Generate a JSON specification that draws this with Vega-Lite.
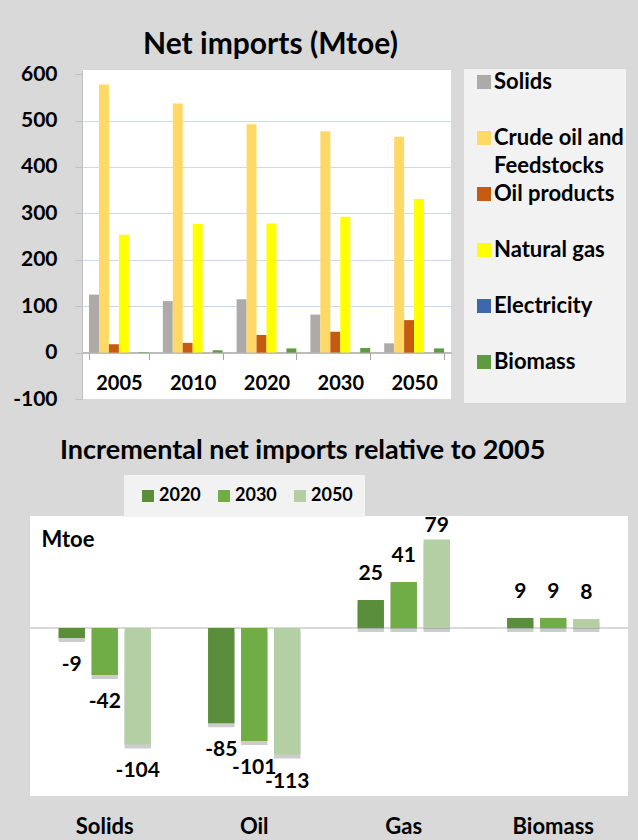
{
  "$schema": "https://vega.github.io/schema/vega-lite/v6.json",
  "background": "#d9d9d9",
  "padding": {"left": 12, "top": 30, "right": 12, "bottom": 10},
  "config": {
    "font": "Lato",
    "title": {"color": "black", "fontWeight": "bold"},
    "axis": {"labelColor": "black", "titleColor": "black", "labelFontWeight": "bold", "titleFontWeight": "bold"},
    "legend": {"labelColor": "black", "labelFontWeight": "bold"},
    "style": {"guide-label": {"lineHeight": 28}}
  },
  "spacing": 28,
  "resolve": {"scale": {"color": "independent", "xOffset": "independent", "x": "independent", "y": "independent"}, "legend": {"color": "independent"}},
  "vconcat": [
    {
      "spacing": 0,
      "bounds": "flush",
      "resolve": {"scale": {"color": "independent", "xOffset": "independent"}, "legend": {"color": "independent"}},
      "hconcat": [
        {
          "data": {"values": []},
          "mark": "point",
          "width": 52,
          "height": 1,
          "view": {"fill": null, "stroke": null}
        },
        {
          "width": 369,
          "height": 329,
          "view": {"fill": "white", "stroke": null},
          "title": {"text": "Net imports (Mtoe)", "fontSize": 30, "anchor": "middle", "frame": "group", "offset": 3, "dx": 4},
          "data": {"values": [
            {"year": "2005", "type": "Solids", "value": 125},
            {"year": "2005", "type": "Crude oil and Feedstocks", "value": 578},
            {"year": "2005", "type": "Oil products", "value": 18},
            {"year": "2005", "type": "Natural gas", "value": 254},
            {"year": "2005", "type": "Electricity", "value": 0},
            {"year": "2005", "type": "Biomass", "value": 1},
            {"year": "2010", "type": "Solids", "value": 111},
            {"year": "2010", "type": "Crude oil and Feedstocks", "value": 537},
            {"year": "2010", "type": "Oil products", "value": 21},
            {"year": "2010", "type": "Natural gas", "value": 277},
            {"year": "2010", "type": "Electricity", "value": 0},
            {"year": "2010", "type": "Biomass", "value": 5},
            {"year": "2020", "type": "Solids", "value": 115},
            {"year": "2020", "type": "Crude oil and Feedstocks", "value": 492},
            {"year": "2020", "type": "Oil products", "value": 38},
            {"year": "2020", "type": "Natural gas", "value": 278},
            {"year": "2020", "type": "Electricity", "value": 0},
            {"year": "2020", "type": "Biomass", "value": 9},
            {"year": "2030", "type": "Solids", "value": 82},
            {"year": "2030", "type": "Crude oil and Feedstocks", "value": 477},
            {"year": "2030", "type": "Oil products", "value": 45},
            {"year": "2030", "type": "Natural gas", "value": 293},
            {"year": "2030", "type": "Electricity", "value": 0},
            {"year": "2030", "type": "Biomass", "value": 10},
            {"year": "2050", "type": "Solids", "value": 20},
            {"year": "2050", "type": "Crude oil and Feedstocks", "value": 465},
            {"year": "2050", "type": "Oil products", "value": 70},
            {"year": "2050", "type": "Natural gas", "value": 331},
            {"year": "2050", "type": "Electricity", "value": 0},
            {"year": "2050", "type": "Biomass", "value": 9}
          ]},
          "encoding": {
            "x": {
              "field": "year", "type": "nominal",
              "scale": {"paddingInner": 0.19, "paddingOuter": 0.095},
              "axis": {"title": null, "orient": "bottom", "offset": -46.4, "domainColor": "#a6a6a6", "domainWidth": 1.5, "tickBand": "extent", "tickColor": "#a6a6a6", "tickSize": 7, "labelFontSize": 20, "labelPadding": 14, "labelAngle": 0}
            },
            "xOffset": {
              "field": "type", "type": "nominal",
              "sort": ["Solids", "Crude oil and Feedstocks", "Oil products", "Natural gas", "Electricity", "Biomass"],
              "scale": {"paddingInner": 0, "paddingOuter": 0}
            },
            "y": {
              "field": "value", "type": "quantitative",
              "scale": {"domain": [-100, 609], "nice": false, "zero": false},
              "axis": {
                "title": null,
                "values": [-100, 0, 100, 200, 300, 400, 500, 600],
                "labelExpr": "'' + datum.value",
                "labelFontSize": 21,
                "labelPadding": 18,
                "domainColor": "#bfbfbf",
                "tickColor": "#bfbfbf",
                "tickSize": 7,
                "gridColor": {"condition": {"test": "datum.value <= 0 || datum.value >= 600", "value": "transparent"}, "value": "#c9daf0"}
              }
            }
          },
          "layer": [
            {
              "mark": {"type": "bar"},
              "encoding": {
                "color": {
                  "field": "type", "type": "nominal",
                  "sort": ["Solids", "Crude oil and Feedstocks", "Oil products", "Natural gas", "Electricity", "Biomass"],
                  "scale": {
                    "domain": ["Solids", "Crude oil and Feedstocks", "Oil products", "Natural gas", "Electricity", "Biomass"],
                    "range": ["#aeaaaa", "#ffd966", "#c55a11", "#ffff00", "#3f67ae", "#5e9a3e"]
                  },
                  "legend": {
                    "orient": "none", "direction": "vertical", "legendX": 382, "legendY": -1,
                    "title": null,
                    "fillColor": "#f2f2f2", "padding": 2,
                    "symbolType": "square", "symbolSize": 196, "symbolOffset": 7, "symbolStrokeWidth": 0,
                    "labelFontSize": 22, "labelOffset": -1, "rowPadding": 6, "labelLimit": 300,
                    "labelExpr": "datum.label == 'Crude oil and Feedstocks' ? ['Crude oil and', 'Feedstocks'] : [datum.label, '']"
                  }
                }
              }
            }
          ]
        }
      ]
    },
    {
      "width": 598,
      "height": 280,
      "view": {"fill": "white", "stroke": null},
      "title": {"text": "Incremental net imports relative to 2005", "fontSize": 27, "anchor": "start", "frame": "group", "dx": 30, "offset": 10},
      "data": {"values": [
        {"fuel": "Solids", "year": "2020", "value": -9},
        {"fuel": "Solids", "year": "2030", "value": -42},
        {"fuel": "Solids", "year": "2050", "value": -104},
        {"fuel": "Oil", "year": "2020", "value": -85},
        {"fuel": "Oil", "year": "2030", "value": -101},
        {"fuel": "Oil", "year": "2050", "value": -113},
        {"fuel": "Gas", "year": "2020", "value": 25},
        {"fuel": "Gas", "year": "2030", "value": 41},
        {"fuel": "Gas", "year": "2050", "value": 79},
        {"fuel": "Biomass", "year": "2020", "value": 9},
        {"fuel": "Biomass", "year": "2030", "value": 9},
        {"fuel": "Biomass", "year": "2050", "value": 8}
      ]},
      "encoding": {
        "x": {
          "field": "fuel", "type": "nominal",
          "sort": ["Solids", "Oil", "Gas", "Biomass"],
          "scale": {"paddingInner": 0.382, "paddingOuter": 0.191},
          "axis": {"title": null, "domain": false, "ticks": false, "labelFontSize": 22, "labelPadding": 20, "labelAngle": 0}
        },
        "xOffset": {"field": "year", "type": "nominal", "scale": {"paddingInner": 0.2, "paddingOuter": 0}},
        "y": {
          "field": "value", "type": "quantitative",
          "scale": {"domain": [-150, 100], "nice": false, "zero": false},
          "axis": {"title": "Mtoe", "titleAngle": 0, "titleX": 11, "titleY": 23, "titleAlign": "left", "titleBaseline": "middle", "titleFontSize": 22, "labels": false, "ticks": false, "domain": false, "grid": false}
        }
      },
      "layer": [
        {
          "mark": {"type": "rule", "color": "#d9d9d9", "strokeWidth": 2},
          "encoding": {"y": {"datum": 0}, "x": null, "xOffset": null}
        },
        {
          "mark": {"type": "bar", "color": "#000000", "opacity": 0.2, "yOffset": 4}
        },
        {
          "mark": {"type": "bar"},
          "encoding": {
            "color": {
              "field": "year", "type": "nominal",
              "scale": {"domain": ["2020", "2030", "2050"], "range": ["#5a8e3a", "#70ad47", "#b3cfa3"]},
              "legend": {
                "orient": "none", "direction": "horizontal", "legendX": 94, "legendY": -41,
                "title": null, "fillColor": "#f2f2f2", "padding": 12,
                "symbolType": "square", "symbolSize": 144, "symbolOffset": 3, "symbolStrokeWidth": 0,
                "labelFontSize": 18, "labelOffset": 2, "columnPadding": 11
              }
            }
          }
        },
        {
          "transform": [{"filter": "datum.value > 0 && datum.value < 60"}],
          "mark": {"type": "text", "dy": -26, "fontSize": 21, "fontWeight": "bold", "color": "black"},
          "encoding": {"text": {"field": "value", "type": "nominal"}}
        },
        {
          "transform": [{"filter": "datum.value >= 60"}],
          "mark": {"type": "text", "dy": -14, "fontSize": 21, "fontWeight": "bold", "color": "black"},
          "encoding": {"text": {"field": "value", "type": "nominal"}}
        },
        {
          "transform": [{"filter": "datum.value < 0"}],
          "mark": {"type": "text", "dy": 27, "fontSize": 21, "fontWeight": "bold", "color": "black"},
          "encoding": {"text": {"field": "value", "type": "nominal"}}
        }
      ]
    }
  ]
}
